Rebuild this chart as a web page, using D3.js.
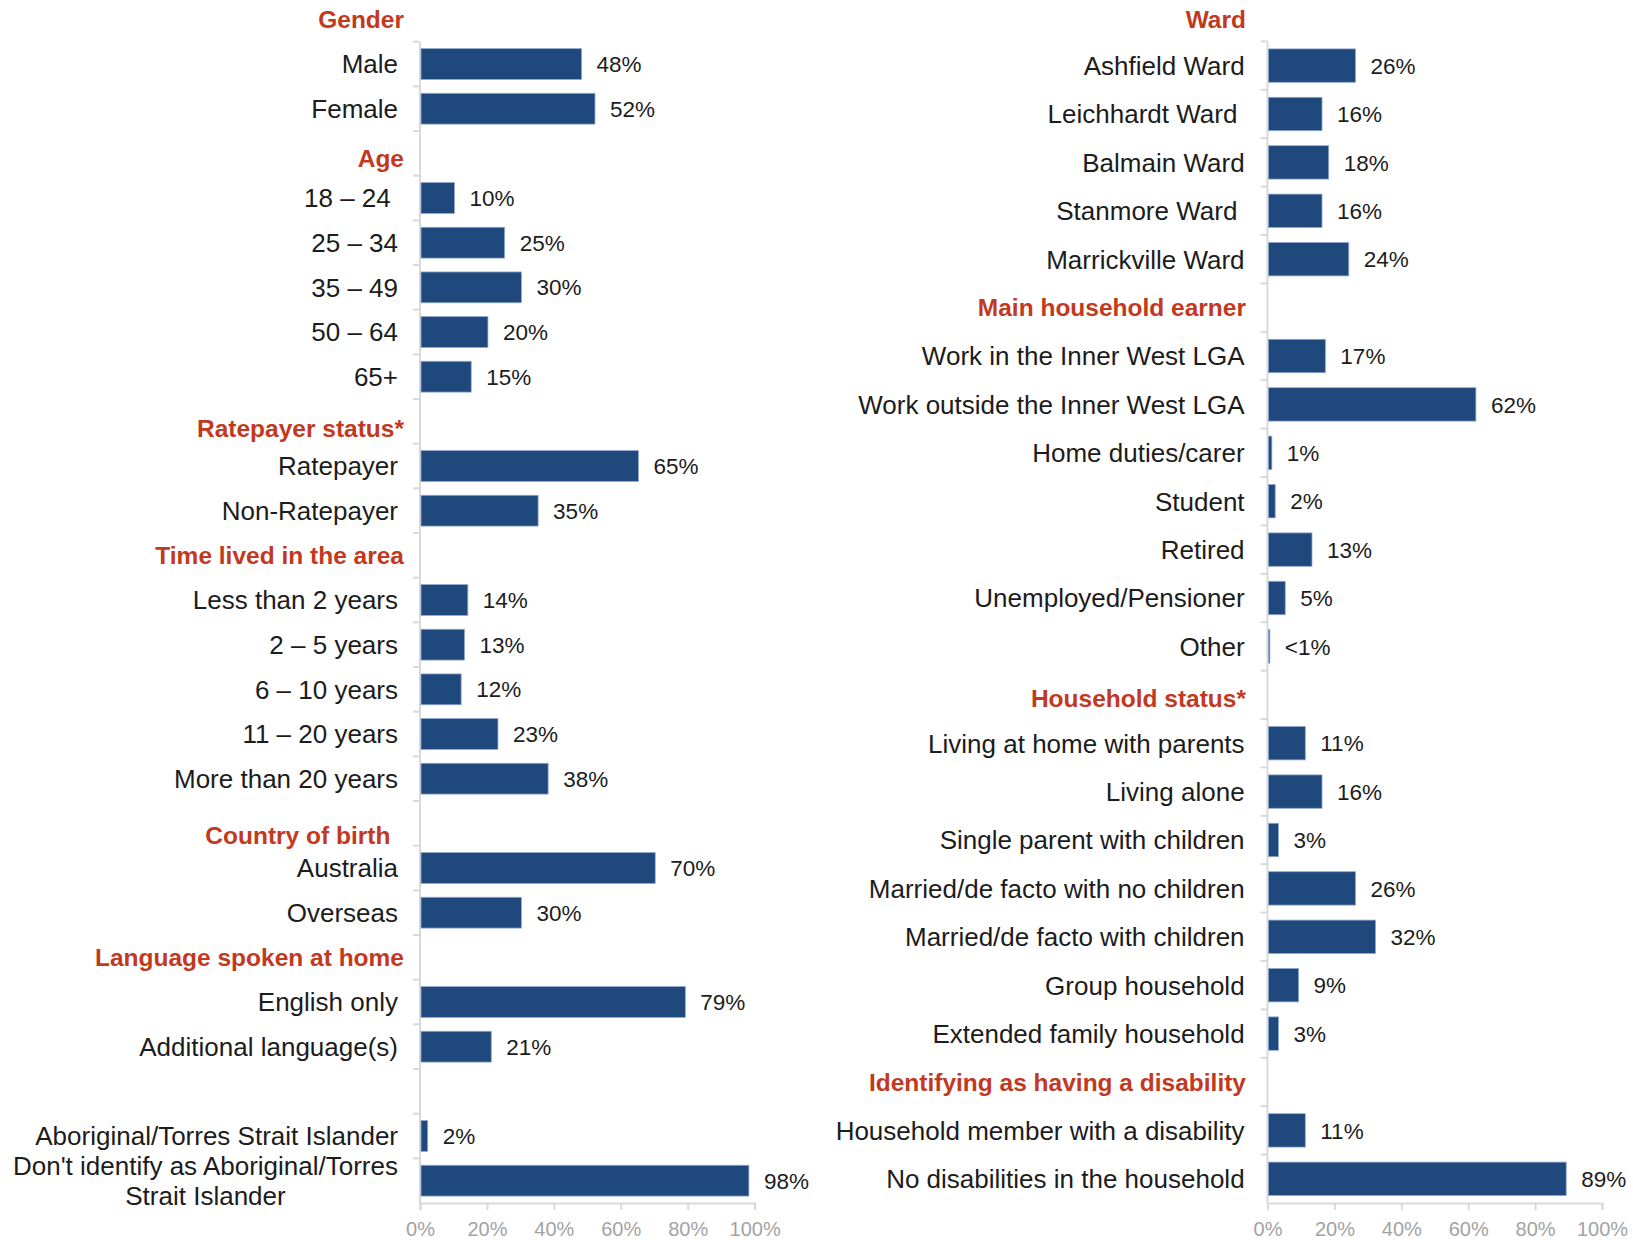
<!DOCTYPE html>
<html>
<head>
<meta charset="utf-8">
<script src="https://cdn.jsdelivr.net/npm/d3@7"></script>
<style>
  html, body { margin: 0; padding: 0; background: #ffffff; }
  svg { display: block; }
  text { font-family: "Liberation Sans", Arial, sans-serif; white-space: pre; }
</style>
</head>
<body>
<svg id="chart" width="1633" height="1240"></svg>
<script>
// ---- Left panel: demographic profile (rows top to bottom, null = section heading / spacer) ----
const leftLabels = [
  "Gender", "Male", "Female",
  "Age", "18 – 24 ", "25 – 34", "35 – 49", "50 – 64", "65+",
  "Ratepayer status*", "Ratepayer", "Non-Ratepayer",
  "Time lived in the area", "Less than 2 years", "2 – 5 years", "6 – 10 years", "11 – 20 years", "More than 20 years",
  "Country of birth  ", "Australia", "Overseas",
  "Language spoken at home", "English only", "Additional language(s)",
  "",
  "Aboriginal/Torres Strait Islander", "Don't identify as Aboriginal/Torres|Strait Islander"
];
const leftValues = [
  null, 48, 52,
  null, 10, 25, 30, 20, 15,
  null, 65, 35,
  null, 14, 13, 12, 23, 38,
  null, 70, 30,
  null, 79, 21,
  null,
  2, 98
];

// ---- Right panel ----
const rightLabels = [
  "Ward", "Ashfield Ward", "Leichhardt Ward ", "Balmain Ward", "Stanmore Ward ", "Marrickville Ward",
  "Main household earner", "Work in the Inner West LGA", "Work outside the Inner West LGA", "Home duties/carer",
  "Student", "Retired", "Unemployed/Pensioner", "Other",
  "Household status*", "Living at home with parents", "Living alone", "Single parent with children",
  "Married/de facto with no children", "Married/de facto with children", "Group household", "Extended family household",
  "Identifying as having a disability", "Household member with a disability", "No disabilities in the household"
];
const rightValues = [
  null, 26, 16, 18, 16, 24,
  null, 17, 62, 1, 2, 13, 5, 0.4,
  null, 11, 16, 3, 26, 32, 9, 3,
  null, 11, 89
];

const axisTicks = [0, 20, 40, 60, 80, 100];
const tickLabels = ["0%", "20%", "40%", "60%", "80%", "100%"];

// ---- Styling ----
const BAR = "#1F497D";
const BAR_EDGE = "#8FA8CF";
const HEAD = "#C2391F";
const INK = "#1c1c1c";
const GRID = "#D9D9D9";
const TICK_TXT = "#A3A3A3";

const svg = d3.select("#chart");

// Small vertical nudges for a few section headings
const headingNudge = {
  "Age": 5, "Ratepayer status*": 7, "Country of birth  ": 12,
  "Ward": 2, "Household status*": 3
};

function pct(v) { return v < 1 ? "<1%" : d3.format("d")(v) + "%"; }

function drawPanel(cfg) {
  const { labels, values, x0, x1, top, bottom, labelRight, headRight } = cfg;
  const n = labels.length;
  const idx = d3.range(n);
  // the first row (panel heading) sits above the axis, so the band range starts one step above `top`
  const step = (bottom - top) / (n - 1);
  const y = d3.scaleBand().domain(idx).range([top - step, bottom]).paddingInner(0.31).paddingOuter(0.155);
  const x = d3.scaleLinear().domain([0, 100]).range([x0, x1]);
  const g = svg.append("g");

  // vertical category axis with row ticks
  g.append("line").attr("x1", x0).attr("x2", x0).attr("y1", top).attr("y2", bottom)
    .attr("stroke", GRID).attr("stroke-width", 2);
  g.selectAll(".rtick").data(d3.range(1, n)).join("line")
    .attr("x1", x0 - 7).attr("x2", x0)
    .attr("y1", i => top + (i - 1) * step).attr("y2", i => top + (i - 1) * step)
    .attr("stroke", GRID).attr("stroke-width", 2);

  // bottom value axis
  const ax = g.append("g").attr("transform", `translate(0,${bottom})`)
    .call(d3.axisBottom(x).tickValues(axisTicks).tickSize(7).tickFormat((d, i) => tickLabels[i]));
  ax.select(".domain").attr("stroke", GRID).attr("stroke-width", 2);
  ax.selectAll(".tick line").attr("stroke", GRID).attr("stroke-width", 2);
  ax.selectAll(".tick text").attr("fill", TICK_TXT).attr("font-size", 20)
    .attr("font-family", "'Liberation Sans', Arial, sans-serif").attr("y", 19);

  const rows = idx.map(i => ({ i, label: labels[i], v: values[i] }));
  const bars = rows.filter(r => r.v !== null);
  const heads = rows.filter(r => r.v === null && r.label !== "");

  g.selectAll(".bar").data(bars).join("rect")
    .attr("x", x(0) + 1)
    .attr("y", r => y(r.i))
    .attr("width", r => Math.max(0, x(r.v) - x(0)))
    .attr("height", y.bandwidth())
    .attr("fill", BAR).attr("stroke", BAR_EDGE).attr("stroke-width", 0.8);

  g.selectAll(".val").data(bars).join("text")
    .attr("x", r => x(r.v) + 16)
    .attr("y", r => y(r.i) + y.bandwidth() / 2)
    .attr("dy", "0.36em")
    .attr("font-size", 22.5).attr("fill", INK)
    .text(r => pct(r.v));

  // category labels (a "|" splits a label onto two centred lines)
  bars.forEach(r => {
    const cy = y(r.i) + y.bandwidth() / 2;
    const parts = r.label.split("|");
    if (parts.length === 1) {
      g.append("text").attr("x", labelRight).attr("y", cy).attr("dy", "0.36em")
        .attr("text-anchor", "end").attr("font-size", 26).attr("fill", INK).text(r.label);
    } else {
      const t = g.append("text").attr("font-size", 26).attr("fill", INK).attr("text-anchor", "middle");
      parts.forEach((p, k) => {
        t.append("tspan").attr("x", 0).attr("y", cy + (k - (parts.length - 1) / 2) * 30)
          .attr("dy", "0.36em").text(p);
      });
      // centre the block so its widest line ends at the label edge
      const bb = t.node().getBBox();
      t.selectAll("tspan").attr("x", labelRight - bb.width / 2);
    }
  });

  g.selectAll(".head").data(heads).join("text")
    .attr("x", headRight)
    .attr("y", r => y(r.i) + y.bandwidth() / 2 + (headingNudge[r.label] || 0))
    .attr("dy", "0.36em")
    .attr("text-anchor", "end").attr("font-size", 24.5).attr("font-weight", "bold")
    .attr("fill", HEAD).text(r => r.label);
}

drawPanel({ labels: leftLabels, values: leftValues, x0: 420, x1: 754.6, top: 41.7, bottom: 1203,
  labelRight: 398, headRight: 404 });
drawPanel({ labels: rightLabels, values: rightValues, x0: 1267.5, x1: 1602, top: 41.4, bottom: 1203,
  labelRight: 1244.6, headRight: 1246 });
</script>
</body>
</html>
